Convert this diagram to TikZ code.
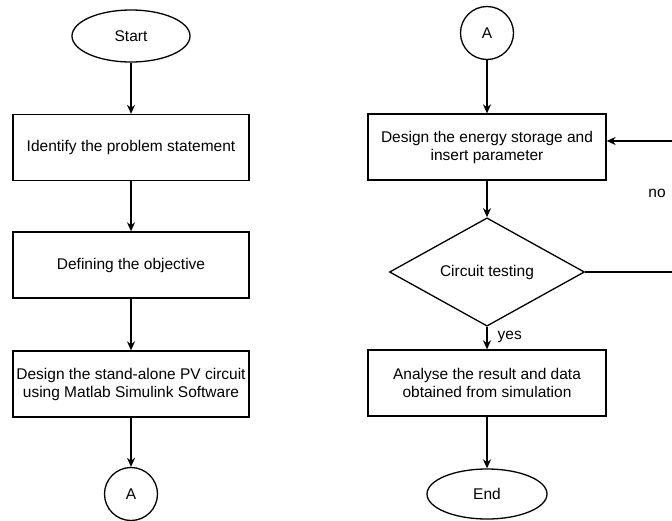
\documentclass[tikz,border=0pt]{standalone}
\usepackage{fontspec}
\setmainfont{Liberation Sans}
\usetikzlibrary{shapes.geometric,arrows.meta}
\begin{document}
\begin{tikzpicture}[x=1pt,y=-1pt,
  every node/.style={font=\fontsize{15.5}{18}\selectfont, inner sep=0pt},
  stepbox/.style={draw, line width=1.3pt, minimum width=236pt, minimum height=66pt, align=center},
  term/.style={draw, line width=1.3pt, ellipse, minimum width=118pt, minimum height=52pt},
  conn/.style={draw, line width=1.3pt, circle, minimum size=53pt},
  dec/.style={draw, line width=1.3pt, diamond, minimum width=195pt, minimum height=79pt},
  arr/.style={line width=1.4pt, -{Stealth[length=9pt,width=8pt]}},
  lbl/.style={font=\fontsize{15.5}{18}\selectfont}]
\useasboundingbox (0,0) rectangle (672,520);
\clip (0,0) rectangle (672,520);
% left column
\node[term] (start) at (131,36) {Start};
\node[stepbox] (ident) at (131,147.5) {Identify the problem statement};
\node[stepbox] (obj) at (131,265) {Defining the objective};
\node[stepbox] (pv) at (131,384) {Design the stand-alone PV circuit\\using Matlab Simulink Software};
\node[conn] (a1) at (131,494) {A};
\draw[arr] (start) -- (ident);
\draw[arr] (ident) -- (obj);
\draw[arr] (obj) -- (pv);
\draw[arr] (pv) -- (a1);
% right column
\node[conn] (a2) at (487,33) {A};
\node[stepbox, minimum width=238pt] (energy) at (487,147) {Design the energy storage and\\insert parameter};
\node[dec] (test) at (487,272) {Circuit testing};
\node[stepbox, minimum width=238pt] (analyse) at (487,383) {Analyse the result and data\\obtained from simulation};
\node[term, minimum width=120pt, minimum height=50pt] (end) at (487,494) {End};
\draw[arr] (a2) -- (energy);
\draw[arr] (energy) -- (test);
\draw[arr] (test) -- node[lbl, right=10pt, pos=0.45] (yes) {yes} (analyse);
\draw[arr] (analyse) -- (end);
\coordinate (c1) at (676,272);
\coordinate (c2) at (676,141);
\draw[arr] (test.east) -- (c1) -- (c2) -- (c2 -| energy.east);
\node[lbl] (no) at (657,193) {no};
\end{tikzpicture}
\end{document}
